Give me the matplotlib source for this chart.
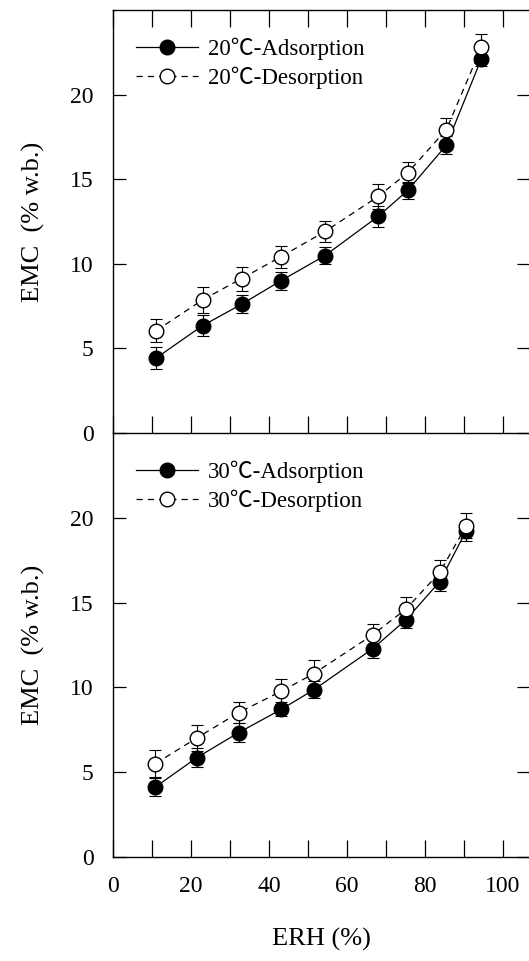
import matplotlib.pyplot as plt

plt.rcParams['font.family'] = ['Liberation Serif', 'Noto Sans CJK JP']
plt.rcParams['mathtext.fontset'] = 'stix'

# 20 C data
erh_20 = [11.0, 23.0, 33.0, 43.0, 54.4, 68.0, 75.6, 85.5, 94.5]
ads_20 = [4.42, 6.35, 7.61, 8.99, 10.49, 12.80, 14.34, 17.01, 22.13]
ads_20_err = [0.65, 0.64, 0.53, 0.53, 0.51, 0.63, 0.51, 0.55, 0.45]
des_20 = [6.04, 7.87, 9.13, 10.41, 11.91, 13.98, 15.38, 17.93, 22.80]
des_20_err = [0.69, 0.75, 0.71, 0.67, 0.63, 0.73, 0.63, 0.69, 0.81]

# 30 C data
erh_30 = [10.9, 21.5, 32.2, 43.2, 51.5, 66.6, 75.2, 83.8, 90.6]
ads_30 = [4.13, 5.86, 7.33, 8.71, 9.86, 12.28, 14.00, 16.24, 19.24]
ads_30_err = [0.55, 0.55, 0.55, 0.40, 0.49, 0.55, 0.51, 0.53, 0.59]
des_30 = [5.51, 7.02, 8.51, 9.78, 10.81, 13.10, 14.63, 16.78, 19.53]
des_30_err = [0.78, 0.75, 0.63, 0.73, 0.78, 0.61, 0.69, 0.73, 0.75]

x_ticks = list(range(0, 101, 10))
y_ticks = [0, 5, 10, 15, 20]

fig = plt.figure(figsize=(5.29, 9.61), dpi=100)
W, H = 529, 961
left = 113 / W
# bottom panel first so the top panel's bottom spine stays on top
ax_bot = fig.add_axes([left, 1 - 857 / H, 1 - left, (857 - 433) / H])
ax_top = fig.add_axes([left, 1 - 433 / H, 1 - left, (433 - 10) / H])
ax_top.patch.set_visible(False)


def draw_panel(ax, erh, ads, ads_err, des, des_err, temp):
    ax.errorbar(erh, ads, yerr=ads_err, fmt='none', ecolor='black',
                elinewidth=0.8, capsize=4.5, capthick=0.8, zorder=2)
    ax.errorbar(erh, des, yerr=des_err, fmt='none', ecolor='black',
                elinewidth=0.8, capsize=4.5, capthick=0.8, zorder=2)
    la, = ax.plot(erh, ads, '-', color='black', lw=0.9, marker='o',
                  ms=10.5, mfc='black', mec='black', zorder=3,
                  label=f'{temp}℃-Adsorption')
    ld, = ax.plot(erh, des, '--', color='black', lw=0.9, dashes=(5, 4),
                  marker='o', ms=10.5, mfc='white', mec='black',
                  mew=1.0, zorder=4, label=f'{temp}℃-Desorption')
    ax.set_xlim(0, 106.7)
    ax.set_ylim(0, 25)
    ax.set_xticks(x_ticks)
    ax.set_xticklabels([str(v) if v % 20 == 0 else '' for v in x_ticks])
    ax.set_yticks(y_ticks)
    ax.spines['right'].set_visible(False)
    for s in ['left', 'bottom', 'top']:
        ax.spines[s].set_linewidth(1.0)
    ax.tick_params(axis='y', direction='in', length=9, width=0.9,
                   right=True, labelsize=17, pad=14)
    ax.tick_params(axis='x', direction='in', length=12, width=0.9,
                   labelsize=17, pad=14)
    ax.set_ylabel('EMC  (% w.b.)', fontsize=19, labelpad=18)
    ax.legend(handles=[la, ld], loc='upper left', frameon=False,
              fontsize=16.5, handlelength=2.7, handletextpad=0.45,
              labelspacing=0.32, bbox_to_anchor=(0.0, 0.99),
              borderaxespad=0.6)


draw_panel(ax_top, erh_20, ads_20, ads_20_err, des_20, des_20_err, 20)
draw_panel(ax_bot, erh_30, ads_30, ads_30_err, des_30, des_30_err, 30)

ax_top.tick_params(axis='x', top=True, labelbottom=False)
ax_bot.spines['top'].set_visible(False)
ax_bot.set_xlabel('ERH (%)', fontsize=19, labelpad=22)

plt.savefig('out.png', dpi=100)
